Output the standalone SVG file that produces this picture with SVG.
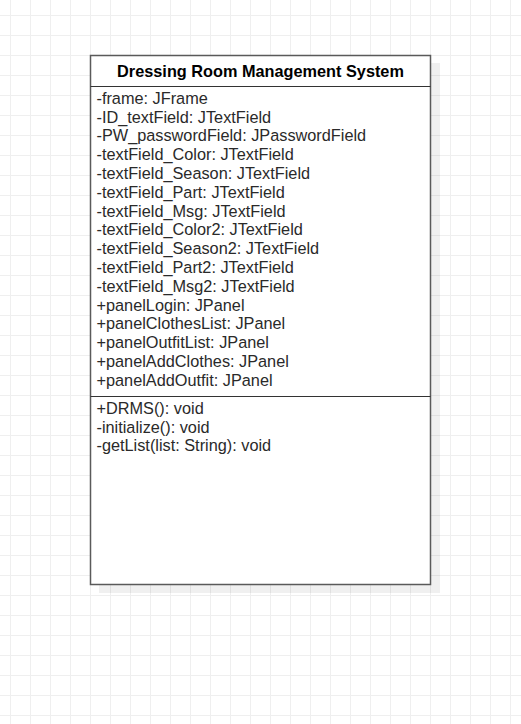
<svg xmlns="http://www.w3.org/2000/svg" width="521" height="724" viewBox="0 0 521 724">
  <defs>
    <pattern id="grid" x="10" y="15" width="20" height="20" patternUnits="userSpaceOnUse">
      <path d="M0.5 0 V20 M0 0.5 H20" fill="none" stroke="#efefef" stroke-width="1"/>
    </pattern>
  </defs>
  <style>
    .t { font-family: "Liberation Sans", Arial, sans-serif; font-size: 16.3px; fill: #2a2a2a; }
    .title { font-family: "Liberation Sans", Arial, sans-serif; font-size: 16.3px; font-weight: bold; fill: #000; }
    .sep { stroke: #333; stroke-width: 1.2; }
  </style>
  <rect width="521" height="724" fill="#ffffff"/>
  <rect width="521" height="724" fill="url(#grid)"/>
  <g id="class-DRMS">
    <rect x="99" y="63" width="341" height="530" fill="#000" fill-opacity="0.06"/>
    <rect x="90.5" y="55.5" width="340" height="529" fill="#ffffff" stroke="#5a5a5a" stroke-width="1.5"/>
    <line class="sep" x1="90.5" y1="86.5" x2="430.5" y2="86.5"/>
    <line class="sep" x1="90.5" y1="396.5" x2="430.5" y2="396.5"/>
    <text class="title" x="260.5" y="77" text-anchor="middle">Dressing Room Management System</text>
    <text class="t" x="96.5" y="103.8">-frame: JFrame</text>
    <text class="t" x="96.5" y="122.6">-ID_textField: JTextField</text>
    <text class="t" x="96.5" y="141.4">-PW_passwordField: JPasswordField</text>
    <text class="t" x="96.5" y="160.2">-textField_Color: JTextField</text>
    <text class="t" x="96.5" y="179">-textField_Season: JTextField</text>
    <text class="t" x="96.5" y="197.8">-textField_Part: JTextField</text>
    <text class="t" x="96.5" y="216.6">-textField_Msg: JTextField</text>
    <text class="t" x="96.5" y="235.4">-textField_Color2: JTextField</text>
    <text class="t" x="96.5" y="254.2">-textField_Season2: JTextField</text>
    <text class="t" x="96.5" y="273">-textField_Part2: JTextField</text>
    <text class="t" x="96.5" y="291.8">-textField_Msg2: JTextField</text>
    <text class="t" x="96.5" y="310.6">+panelLogin: JPanel</text>
    <text class="t" x="96.5" y="329.4">+panelClothesList: JPanel</text>
    <text class="t" x="96.5" y="348.2">+panelOutfitList: JPanel</text>
    <text class="t" x="96.5" y="367">+panelAddClothes: JPanel</text>
    <text class="t" x="96.5" y="385.8">+panelAddOutfit: JPanel</text>
    <text class="t" x="96.5" y="413.8">+DRMS(): void</text>
    <text class="t" x="96.5" y="432.6">-initialize(): void</text>
    <text class="t" x="96.5" y="451.4">-getList(list: String): void</text>
  </g>
</svg>
